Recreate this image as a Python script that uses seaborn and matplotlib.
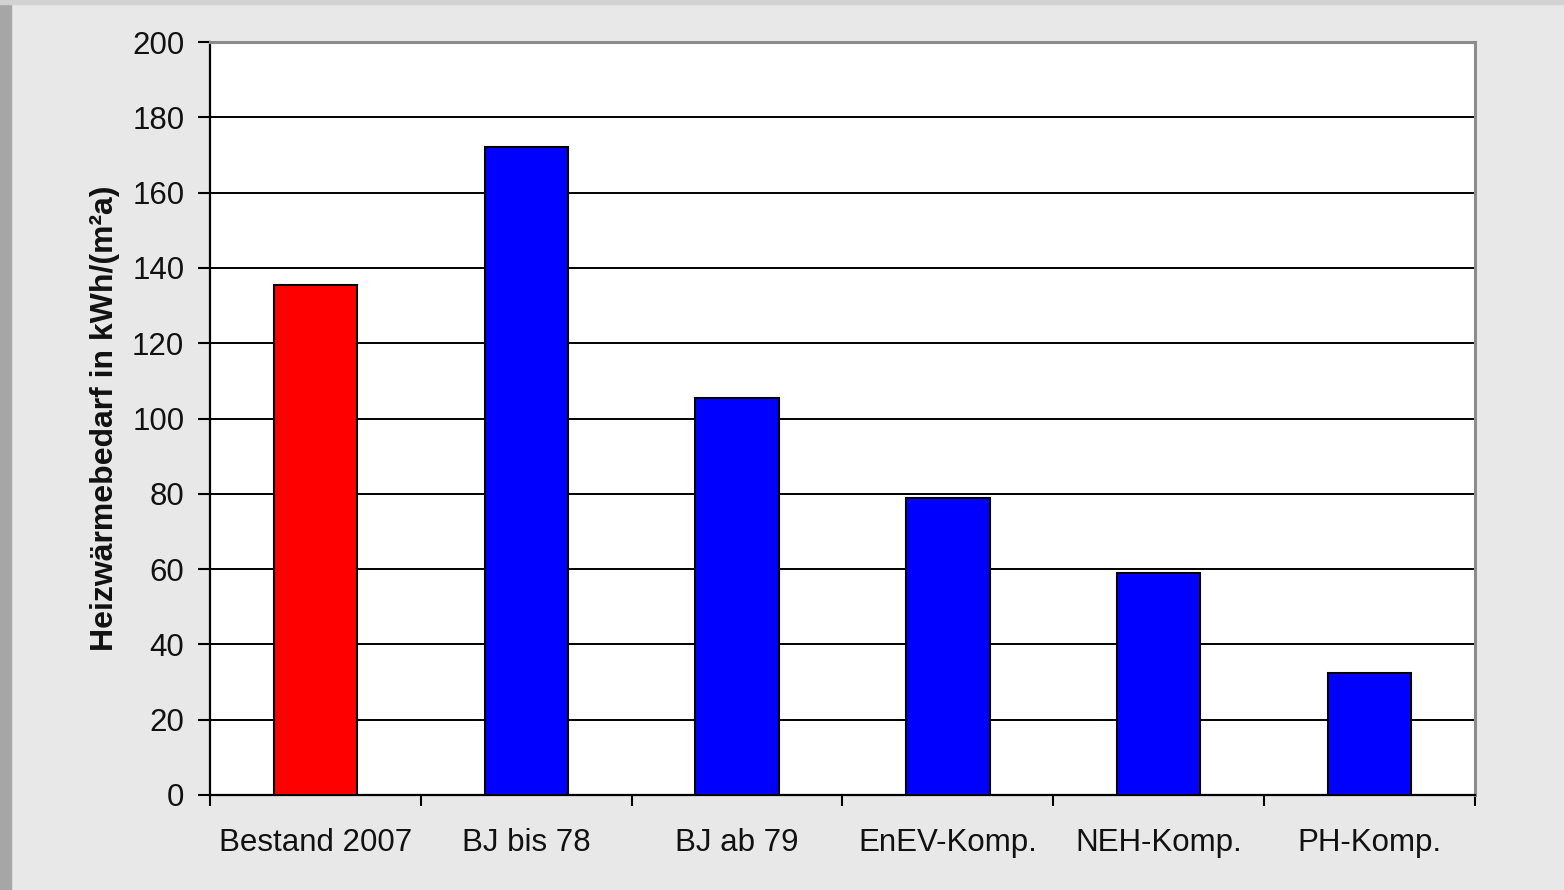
import matplotlib
matplotlib.use('Agg')
import matplotlib.pyplot as plt
from matplotlib.patches import Rectangle
import numpy as np
import pandas as pd
import seaborn as sns

categories = ['Bestand 2007', 'BJ bis 78', 'BJ ab 79', 'EnEV-Komp.', 'NEH-Komp.', 'PH-Komp.']
values = [135.5, 172, 105.5, 79, 59, 32.5]
bar_colors = ['#ff0000', '#0000ff', '#0000ff', '#0000ff', '#0000ff', '#0000ff']
y_ticks = [0, 20, 40, 60, 80, 100, 120, 140, 160, 180, 200]
y_label = 'Heizwärmebedarf in kWh/(m²a)'

df = pd.DataFrame({'cat': categories, 'val': values})

sns.set_style('white')
plt.rcParams['font.family'] = ['Liberation Sans', 'DejaVu Sans']

fig = plt.figure(figsize=(15.64, 8.9), dpi=100, facecolor='#e8e8e8')
# grey frame strips at the edges of the slide
fig.add_artist(Rectangle((0, 0), 11 / 1564, 1, transform=fig.transFigure, color='#a6a6a6', zorder=0))
fig.add_artist(Rectangle((0, 1 - 4 / 890), 1, 4 / 890, transform=fig.transFigure, color='#d2d2d2', zorder=0))

ax = fig.add_axes((210 / 1564, 95 / 890, 1265 / 1564, 753 / 890))
ax.set_facecolor('white')

sns.barplot(data=df, x='cat', y='val', hue='cat', palette=bar_colors, legend=False,
            width=0.395, edgecolor='black', linewidth=1.5, saturation=1, ax=ax, zorder=3)

ax.set_ylim(0, 200)
ax.set_xlim(-0.5, len(categories) - 0.5)
ax.set_yticks(y_ticks)
ax.yaxis.grid(True, color='black', linewidth=1.4, zorder=0)
ax.set_axisbelow(True)

# category labels centred, tick marks at the category borders
ax.set_xticks(range(len(categories)))
ax.set_xticklabels(categories)
ax.set_xticks(np.arange(-0.5, len(categories)), minor=True)
ax.tick_params(axis='x', which='major', length=0, pad=24, labelsize=22.5, colors='#111111')
ax.tick_params(axis='x', which='minor', length=8, width=1.5, color='black', direction='out', bottom=True)
ax.tick_params(axis='y', length=8.5, width=1.5, color='black', direction='out', pad=10,
               labelsize=22.5, labelcolor='#111111', left=True)

ax.set_xlabel('')
ax.set_ylabel(y_label, fontsize=23, fontweight='bold', color='#111111', labelpad=9)

for side in ['left', 'bottom']:
    ax.spines[side].set_color('black')
    ax.spines[side].set_linewidth(1.6)
for side in ['top', 'right']:
    ax.spines[side].set_visible(True)
    ax.spines[side].set_color('#8c8c8c')
    ax.spines[side].set_linewidth(2.2)

fig.savefig('out.png', dpi=100, facecolor=fig.get_facecolor())
